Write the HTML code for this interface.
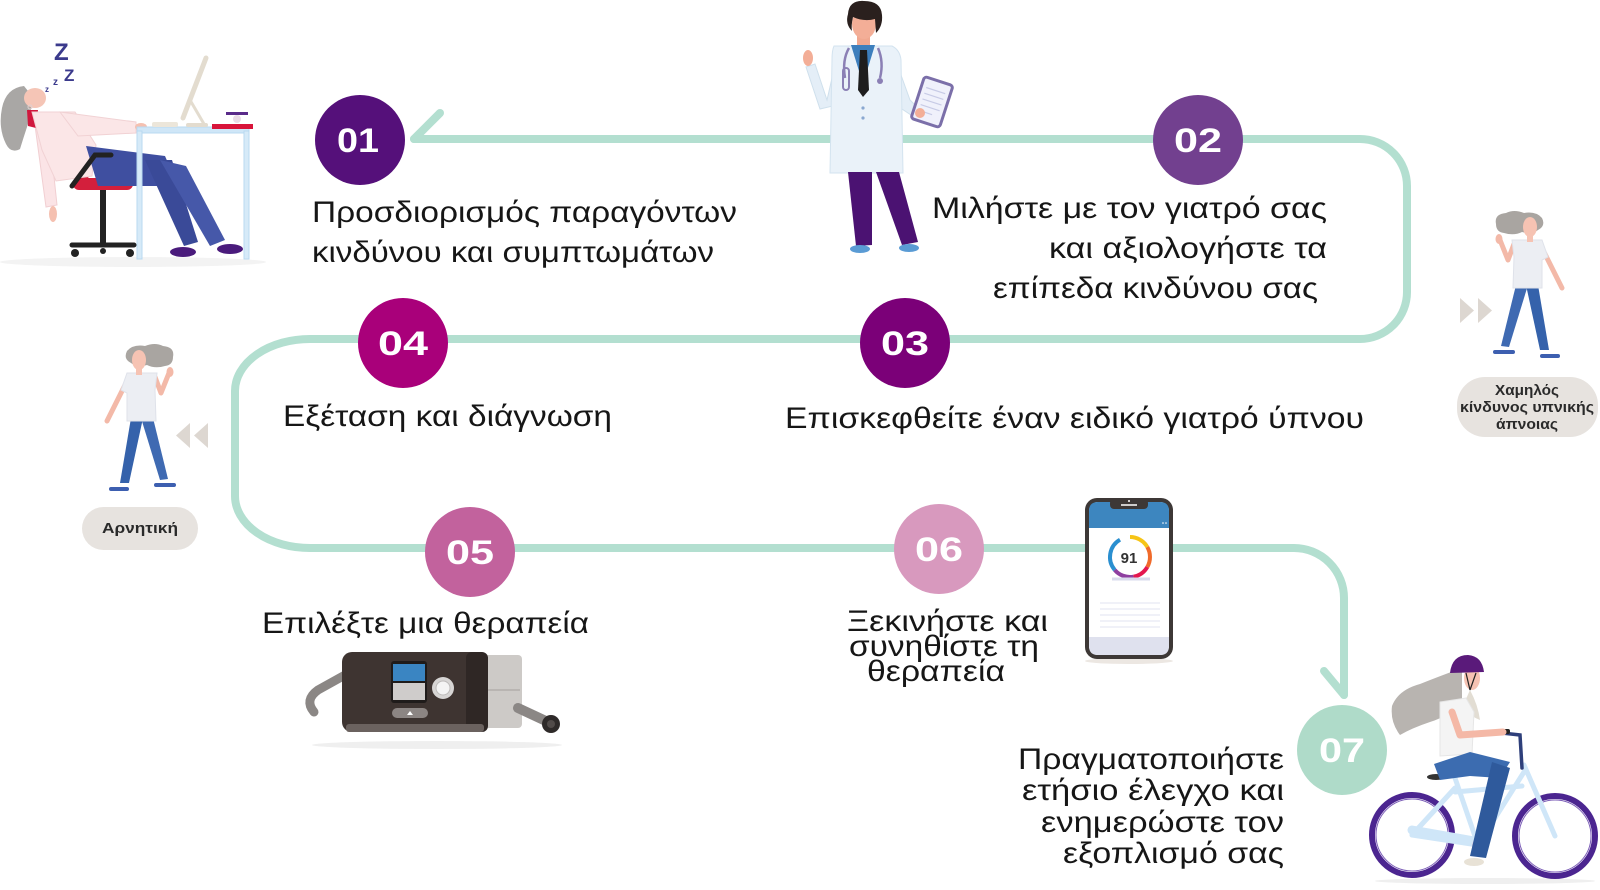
<!DOCTYPE html>
<html><head><meta charset="utf-8">
<style>
html,body{margin:0;padding:0;background:#fff;}
svg{display:block}
.t{font-family:"Liberation Sans","DejaVu Sans",sans-serif;font-size:30px;fill:#161616;}
.n{font-family:"Liberation Sans","DejaVu Sans",sans-serif;font-weight:bold;font-size:34px;fill:#fff;}
.b{font-family:"Liberation Sans","DejaVu Sans",sans-serif;font-weight:bold;font-size:15px;fill:#2a2a2a;}
</style></head><body>
<svg width="1600" height="890" viewBox="0 0 1600 890" xmlns="http://www.w3.org/2000/svg">
<rect width="1600" height="890" fill="#fff"/>

<!-- Connector path -->
<path d="M414 139 H1360 A47 47 0 0 1 1407 186 V292 A47 47 0 0 1 1360 339 H310 A75 52 0 0 0 235 391 V496 A75 52 0 0 0 310 548 H1294 A50 50 0 0 1 1344 598 V695" fill="none" stroke="#b3dfd0" stroke-width="8" stroke-linecap="round" stroke-linejoin="round"/>
<path d="M414 139 L440 113" stroke="#b3dfd0" stroke-width="8" stroke-linecap="round" fill="none"/>
<path d="M1344 695 L1324 671" stroke="#b3dfd0" stroke-width="8" stroke-linecap="round" fill="none"/>

<!-- Sleeping woman at desk -->
<g>
<ellipse cx="133" cy="262" rx="133" ry="5" fill="#f3f3f3"/>
<text x="54" y="60" font-family="Liberation Sans,sans-serif" font-weight="bold" font-size="24" fill="#3b3a8c">Z</text>
<text x="64" y="81" font-family="Liberation Sans,sans-serif" font-weight="bold" font-size="17" fill="#3b3a8c">Z</text>
<text x="53" y="85" font-family="Liberation Sans,sans-serif" font-weight="bold" font-size="10" fill="#3b3a8c">z</text>
<text x="45" y="92" font-family="Liberation Sans,sans-serif" font-weight="bold" font-size="8" fill="#3b3a8c">z</text>
<polygon points="55,145 63,140 90,176 79,186" fill="#d31f3c"/>
<rect x="73" y="178" width="60" height="12" rx="6" fill="#d31f3c"/>
<polygon points="34,118 48,120 57,205 46,207" fill="#fbe4e6" stroke="#f1cfd2" stroke-width="1"/>
<ellipse cx="53" cy="214" rx="4" ry="8" fill="#f5c0b0"/>
<path d="M24 86 Q6 88 2 108 Q-2 128 6 144 Q11 154 20 149 Q24 136 28 124 Q32 108 32 96 Z" fill="#a9a7a5"/>
<ellipse cx="35" cy="98" rx="11" ry="10" fill="#f5c5b6"/>
<circle cx="30" cy="107" r="2" fill="none" stroke="#e0d0d0" stroke-width="1"/>
<polygon points="27,110 38,110 36,128 28,126" fill="#d0173d"/>
<polygon points="32,112 75,112 96,145 92,176 56,181 42,150" fill="#fbe6e7" stroke="#f1d2d4" stroke-width="1"/>
<polygon points="60,112 136,122 136,133 78,136" fill="#fbe6e7" stroke="#f1d2d4" stroke-width="1"/>
<ellipse cx="141" cy="127" rx="6" ry="4" fill="#f5c0b0"/>
<polygon points="86,146 165,156 178,186 98,186" fill="#3f4fa0"/>
<polygon points="145,160 172,160 198,242 184,246" fill="#3a4a98"/>
<polygon points="160,160 186,166 225,240 210,246" fill="#4658a9"/>
<ellipse cx="183" cy="252" rx="13" ry="5" fill="#4a1b7c"/>
<ellipse cx="230" cy="249" rx="13" ry="5" fill="#4a1b7c"/>
<path d="M72 186 L95 155 L111 155" stroke="#222" stroke-width="5" fill="none" stroke-linecap="round"/>
<rect x="100" y="190" width="6" height="54" fill="#222"/>
<path d="M72 245 L134 245" stroke="#222" stroke-width="5" stroke-linecap="round"/>
<circle cx="75" cy="253" r="4" fill="#222"/>
<circle cx="130" cy="253" r="4" fill="#222"/>
<circle cx="103" cy="251" r="3" fill="#222"/>
<rect x="137" y="127" width="112" height="6" fill="#cfe6f7" stroke="#b9d9f0" stroke-width="1"/>
<rect x="137" y="131" width="5" height="128" fill="#d6eaf8" stroke="#b9d9f0" stroke-width="1"/>
<rect x="244" y="131" width="5" height="128" fill="#d6eaf8" stroke="#b9d9f0" stroke-width="1"/>
<path d="M206 58 L183 118" stroke="#e3dccf" stroke-width="5" stroke-linecap="round"/>
<path d="M190 100 L204 124" stroke="#e3dccf" stroke-width="3"/>
<rect x="186" y="123" width="22" height="4" rx="2" fill="#e3dccf"/>
<rect x="152" y="122" width="26" height="5" rx="2" fill="#ece6da"/>
<rect x="212" y="124" width="41" height="5" fill="#d8143a"/>
<rect x="226" y="112" width="22" height="3" fill="#5a2b8a"/>
<circle cx="237" cy="119" r="4" fill="#eadbe6"/>
</g>

<!-- Doctor -->
<g>
<path d="M838 52 L827 100 L815 64 L806 67 L820 109 L837 105 L847 70 Z" fill="#e4eef7" stroke="#cfe0ec" stroke-width="1"/>
<ellipse cx="808" cy="58" rx="5" ry="8" fill="#f3ae97"/>
<path d="M892 50 L910 100 L920 110 L914 117 L899 107 L887 70 Z" fill="#e4eef7" stroke="#cfe0ec" stroke-width="1"/>
<rect x="857" y="34" width="13" height="13" fill="#f0a890"/>
<path d="M834 46 L892 46 Q900 50 901 60 L903 173 L830 173 L832 60 Q832 50 834 46 Z" fill="#eaf2f9" stroke="#d3e3ef" stroke-width="1"/>
<path d="M851 45 L875 45 L863 84 Z" fill="#3d7fbd"/>
<path d="M860 50 L867 50 L869 90 L863 97 L858 90 Z" fill="#1e1e1e"/>
<path d="M849 48 Q842 60 845 78" stroke="#8b80b5" stroke-width="2.5" fill="none"/>
<rect x="843" y="68" width="6" height="22" rx="3" fill="none" stroke="#8b80b5" stroke-width="2"/>
<path d="M878 48 Q884 62 880 78" stroke="#8b80b5" stroke-width="2.5" fill="none"/>
<circle cx="880" cy="81" r="3" fill="#8b80b5"/>
<circle cx="863" cy="108" r="1.6" fill="#8aa8d0"/>
<circle cx="863" cy="118" r="1.6" fill="#8aa8d0"/>
<ellipse cx="864" cy="24" rx="12" ry="15" fill="#f3ae97"/>
<path d="M848 14 Q849 0 864 1 Q881 1 882 15 Q883 26 876 33 L875 19 Q864 22 853 17 Q851 26 852 31 Q845 24 848 14 Z" fill="#2a201e"/>
<g transform="rotate(18 932 102)">
<rect x="917" y="80" width="30" height="44" rx="3" fill="#f0f1fb" stroke="#7b6fa9" stroke-width="3"/>
<path d="M922 90 H942 M922 96 H942 M922 102 H942 M922 108 H942 M922 114 H936" stroke="#c8cbe6" stroke-width="1.2"/>
</g>
<circle cx="920" cy="113" r="5" fill="#f3ae97"/>
<path d="M848 172 L872 172 L872 245 L856 246 Z" fill="#4b1272"/>
<path d="M876 172 L899 172 L918 242 L902 245 Z" fill="#4b1272"/>
<ellipse cx="860" cy="249" rx="10" ry="4" fill="#5a9bd4"/>
<ellipse cx="909" cy="248" rx="10" ry="4" fill="#5a9bd4"/>
</g>

<!-- Walking woman (right) -->
<g transform="translate(1492,212)">
<path d="M22 32 L16 48 L8 28" stroke="#f3b9a8" stroke-width="5" fill="none" stroke-linecap="round" stroke-linejoin="round"/>
<ellipse cx="7" cy="27" rx="3.5" ry="5" fill="#f3b9a8"/>
<path d="M52 40 L70 76" stroke="#f3b9a8" stroke-width="5" stroke-linecap="round"/>
<polygon points="24,73 36,73 17,135 9,134" fill="#3f6ab2"/>
<polygon points="34,73 46,73 57,138 48,138" fill="#3562ab"/>
<polygon points="20,28 50,28 56,45 50,48 50,76 21,76 22,45" fill="#eceef3" stroke="#dfe2ea" stroke-width="1"/>
<path d="M4 12 Q2 2 14 1 Q22 -3 32 1 Q44 -1 50 6 Q54 14 46 18 Q40 23 30 20 Q22 24 12 21 Q4 20 4 12 Z" fill="#a9a5a1"/>
<ellipse cx="38" cy="15" rx="7" ry="10" fill="#f6c3b3"/>
<rect x="35" y="23" width="6" height="7" fill="#f6c3b3"/>
<path d="M3 140 L21 140" stroke="#3d5fb0" stroke-width="4" stroke-linecap="round"/>
<path d="M50 144 L66 144" stroke="#3d5fb0" stroke-width="4" stroke-linecap="round"/>
</g>
<!-- Walking woman (left, mirrored) -->
<g transform="translate(177,345) scale(-1,1)">
<path d="M22 32 L16 48 L8 28" stroke="#f3b9a8" stroke-width="5" fill="none" stroke-linecap="round" stroke-linejoin="round"/>
<ellipse cx="7" cy="27" rx="3.5" ry="5" fill="#f3b9a8"/>
<path d="M52 40 L70 76" stroke="#f3b9a8" stroke-width="5" stroke-linecap="round"/>
<polygon points="24,73 36,73 17,135 9,134" fill="#3f6ab2"/>
<polygon points="34,73 46,73 57,138 48,138" fill="#3562ab"/>
<polygon points="20,28 50,28 56,45 50,48 50,76 21,76 22,45" fill="#eceef3" stroke="#dfe2ea" stroke-width="1"/>
<path d="M4 12 Q2 2 14 1 Q22 -3 32 1 Q44 -1 50 6 Q54 14 46 18 Q40 23 30 20 Q22 24 12 21 Q4 20 4 12 Z" fill="#a9a5a1"/>
<ellipse cx="38" cy="15" rx="7" ry="10" fill="#f6c3b3"/>
<rect x="35" y="23" width="6" height="7" fill="#f6c3b3"/>
<path d="M3 140 L21 140" stroke="#3d5fb0" stroke-width="4" stroke-linecap="round"/>
<path d="M50 144 L66 144" stroke="#3d5fb0" stroke-width="4" stroke-linecap="round"/>
</g>

<!-- Chevrons -->
<polygon points="1460,298 1474,310.5 1460,323" fill="#ddd7d1"/>
<polygon points="1478,298 1492,310.5 1478,323" fill="#ddd7d1"/>
<polygon points="208,423 194,435.5 208,448" fill="#ddd7d1"/>
<polygon points="190,423 176,435.5 190,448" fill="#ddd7d1"/>

<!-- Badges -->
<rect x="82" y="507" width="116" height="43" rx="21.5" fill="#e7e3df"/>
<text class="b" x="140" y="533" text-anchor="middle" textLength="76" lengthAdjust="spacingAndGlyphs">Αρνητική</text>
<rect x="1457" y="377" width="141" height="60" rx="28" fill="#e7e3df"/>
<text class="b" x="1527" y="395" text-anchor="middle" textLength="64" lengthAdjust="spacingAndGlyphs">Χαμηλός</text>
<text class="b" x="1527" y="412" text-anchor="middle" textLength="134" lengthAdjust="spacingAndGlyphs">κίνδυνος υπνικής</text>
<text class="b" x="1527" y="429" text-anchor="middle" textLength="62" lengthAdjust="spacingAndGlyphs">άπνοιας</text>

<!-- CPAP -->
<g>
<ellipse cx="437" cy="745" rx="125" ry="4" fill="#efefef"/>
<path d="M314 712 Q304 700 318 690 L345 675" stroke="#8b8785" stroke-width="9" fill="none" stroke-linecap="round"/>
<rect x="480" y="655" width="42" height="73" rx="4" fill="#cdcac7"/>
<path d="M486 690 H520" stroke="#b9b5b2" stroke-width="2"/>
<path d="M518 708 L548 722" stroke="#8b8785" stroke-width="10" stroke-linecap="round"/>
<circle cx="551" cy="724" r="9" fill="#2e2a29"/>
<circle cx="551" cy="724" r="4" fill="#514b49"/>
<rect x="342" y="652" width="146" height="80" rx="10" fill="#3e3431"/>
<rect x="466" y="652" width="22" height="80" rx="6" fill="#2f2725"/>
<rect x="346" y="724" width="138" height="8" rx="3" fill="#6b625f"/>
<rect x="391" y="661" width="36" height="42" rx="3" fill="#1f1b1a"/>
<rect x="393" y="664" width="32" height="17" fill="#3a85c2"/>
<rect x="393" y="683" width="32" height="17" fill="#cfcccb"/>
<circle cx="443" cy="688" r="11" fill="#d7d5d4"/>
<circle cx="443" cy="688" r="7" fill="#f4f4f4" stroke="#bdbbba" stroke-width="1"/>
<rect x="392" y="708" width="36" height="10" rx="5" fill="#8c8583"/>
<path d="M407 715 L410 711 L413 715 Z" fill="#fff"/>
</g>

<!-- Phone -->
<g>
<ellipse cx="1129" cy="661" rx="44" ry="3" fill="#ece7e2"/>
<rect x="1085" y="498" width="88" height="161" rx="12" fill="#3d3836"/>
<rect x="1089" y="502" width="80" height="153" rx="9" fill="#fff"/>
<path d="M1098 502 H1160 Q1169 502 1169 511 V528 H1089 V511 Q1089 502 1098 502 Z" fill="#3d86bf"/>
<path d="M1089 637 H1169 V646 Q1169 655 1160 655 H1098 Q1089 655 1089 646 Z" fill="#dfe1ee"/>
<rect x="1110" y="499" width="38" height="10" rx="4" fill="#3d3836"/>
<path d="M1121 505 H1137" stroke="#fff" stroke-width="1.5"/>
<circle cx="1129" cy="501" r="1" fill="#fff"/>
<circle cx="1163" cy="523" r="0.8" fill="#fff"/><circle cx="1166" cy="523" r="0.8" fill="#fff"/>
<g fill="none" stroke-width="4">
<path d="M1130 537 A20 20 0 0 1 1147.3 547" stroke="#f6c416"/>
<path d="M1147.3 547 A20 20 0 0 1 1147.3 567" stroke="#f06a2a"/>
<path d="M1147.3 567 A20 20 0 0 1 1133.5 576.7" stroke="#e4174f"/>
<path d="M1133.5 576.7 A20 20 0 0 1 1114.7 569.9" stroke="#8e3fa0"/>
<path d="M1114.7 569.9 A20 20 0 0 1 1120 539.7" stroke="#2a8fd0"/>
</g>
<text x="1129" y="563" text-anchor="middle" font-family="Liberation Sans,sans-serif" font-weight="bold" font-size="15" fill="#333">91</text>
<path d="M1112 579 H1150" stroke="#d9dbec" stroke-width="3"/>
<path d="M1100 603 H1160 M1100 609 H1160 M1100 615 H1160 M1100 621 H1160 M1100 627 H1160" stroke="#e1e3f0" stroke-width="1"/>
</g>

<!-- Cyclist -->
<g>
<ellipse cx="1485" cy="881" rx="110" ry="3" fill="#efefef"/>
<circle cx="1412" cy="835" r="40" fill="none" stroke="#4b2590" stroke-width="6"/>
<circle cx="1412" cy="835" r="36" fill="none" stroke="#7d5fb8" stroke-width="1"/>
<circle cx="1555" cy="836" r="40" fill="none" stroke="#4b2590" stroke-width="6"/>
<circle cx="1555" cy="836" r="36" fill="none" stroke="#7d5fb8" stroke-width="1"/>
<g stroke="#cfe6f8" stroke-width="5" fill="none" stroke-linecap="round">
<path d="M1412 835 L1478 845 L1455 778"/>
<path d="M1412 835 L1455 788"/>
<path d="M1478 845 L1524 772"/>
<path d="M1455 792 L1522 786"/>
<path d="M1524 765 L1555 836"/>
</g>
<path d="M1412 830 L1480 842" stroke="#cfe6f8" stroke-width="9" stroke-linecap="round"/>
<circle cx="1478" cy="845" r="6" fill="#d9d4e6"/>
<path d="M1522 768 L1520 735 L1502 733" stroke="#2e3f7a" stroke-width="3.5" fill="none" stroke-linecap="round"/>
<rect x="1496" y="729" width="14" height="5" rx="2" fill="#222"/>
<ellipse cx="1436" cy="777" rx="9" ry="3" fill="#333"/>
<path d="M1462 668 Q1440 676 1420 684 Q1398 690 1392 706 Q1390 722 1400 735 Q1412 728 1430 722 Q1450 716 1462 700 Z" fill="#b8b4b0"/>
<path d="M1470 690 Q1478 705 1480 720 Q1470 716 1462 708 Z" fill="#e2ddd3"/>
<polygon points="1440,702 1466,698 1474,712 1472,754 1440,756" fill="#f4f4f4" stroke="#e6e6e6" stroke-width="1"/>
<path d="M1452 712 L1460 735 L1503 732" stroke="#f4b8a6" stroke-width="7" fill="none" stroke-linecap="round" stroke-linejoin="round"/>
<polygon points="1434,764 1470,752 1510,762 1500,778 1470,776 1440,780" fill="#3c6cb0"/>
<polygon points="1492,762 1510,768 1486,858 1470,856" fill="#2f5a9c"/>
<ellipse cx="1474" cy="862" rx="10" ry="4" fill="#e8e2d6"/>
<ellipse cx="1472" cy="678" rx="8" ry="12" fill="#f6c3b3"/>
<path d="M1450 673 Q1452 655 1468 655 Q1482 656 1484 672 Z" fill="#5a1a7a"/>
<path d="M1466 673 L1470 690 M1476 673 L1470 690" stroke="#222" stroke-width="1.2"/>
</g>

<!-- Circles -->
<circle cx="360" cy="140" r="45" fill="#55107a"/>
<circle cx="1198" cy="140" r="45" fill="#72408f"/>
<circle cx="905" cy="343" r="45" fill="#7b0078"/>
<circle cx="403" cy="343" r="45" fill="#a9007a"/>
<circle cx="470" cy="552" r="45" fill="#c2629d"/>
<circle cx="939" cy="549" r="45" fill="#d899be"/>
<circle cx="1342" cy="750" r="45" fill="#afdbc9"/>

<text class="n" x="358" y="152" text-anchor="middle" textLength="42" lengthAdjust="spacingAndGlyphs">01</text>
<text class="n" x="1198" y="152" text-anchor="middle" textLength="48" lengthAdjust="spacingAndGlyphs">02</text>
<text class="n" x="905" y="355" text-anchor="middle" textLength="48" lengthAdjust="spacingAndGlyphs">03</text>
<text class="n" x="403" y="355" text-anchor="middle" textLength="50" lengthAdjust="spacingAndGlyphs">04</text>
<text class="n" x="470" y="564" text-anchor="middle" textLength="48" lengthAdjust="spacingAndGlyphs">05</text>
<text class="n" x="939" y="561" text-anchor="middle" textLength="48" lengthAdjust="spacingAndGlyphs">06</text>
<text class="n" x="1342" y="762" text-anchor="middle" textLength="46" lengthAdjust="spacingAndGlyphs">07</text>

<!-- Labels -->
<text class="t" x="312" y="222" textLength="425" lengthAdjust="spacingAndGlyphs">Προσδιορισμός παραγόντων</text>
<text class="t" x="312" y="262" textLength="402" lengthAdjust="spacingAndGlyphs">κινδύνου και συμπτωμάτων</text>

<text class="t" x="932" y="218" textLength="395" lengthAdjust="spacingAndGlyphs">Μιλήστε με τον γιατρό σας</text>
<text class="t" x="1049" y="258" textLength="278" lengthAdjust="spacingAndGlyphs">και αξιολογήστε τα</text>
<text class="t" x="993" y="298" textLength="325" lengthAdjust="spacingAndGlyphs">επίπεδα κινδύνου σας</text>

<text class="t" x="785" y="428" textLength="579" lengthAdjust="spacingAndGlyphs">Επισκεφθείτε έναν ειδικό γιατρό ύπνου</text>
<text class="t" x="283" y="426" textLength="329" lengthAdjust="spacingAndGlyphs">Εξέταση και διάγνωση</text>
<text class="t" x="262" y="633" textLength="327" lengthAdjust="spacingAndGlyphs">Επιλέξτε μια θεραπεία</text>

<text class="t" x="847" y="631" textLength="201" lengthAdjust="spacingAndGlyphs">Ξεκινήστε και</text>
<text class="t" x="849" y="656" textLength="190" lengthAdjust="spacingAndGlyphs">συνηθίστε τη</text>
<text class="t" x="867" y="681" textLength="138" lengthAdjust="spacingAndGlyphs">θεραπεία</text>

<text class="t" x="1018" y="769" font-size="31" textLength="266" lengthAdjust="spacingAndGlyphs">Πραγματοποιήστε</text>
<text class="t" x="1022" y="800" font-size="31" textLength="262" lengthAdjust="spacingAndGlyphs">ετήσιο έλεγχο και</text>
<text class="t" x="1041" y="832" font-size="31" textLength="243" lengthAdjust="spacingAndGlyphs">ενημερώστε τον</text>
<text class="t" x="1063" y="863" font-size="31" textLength="221" lengthAdjust="spacingAndGlyphs">εξοπλισμό σας</text>
</svg>
</body></html>
